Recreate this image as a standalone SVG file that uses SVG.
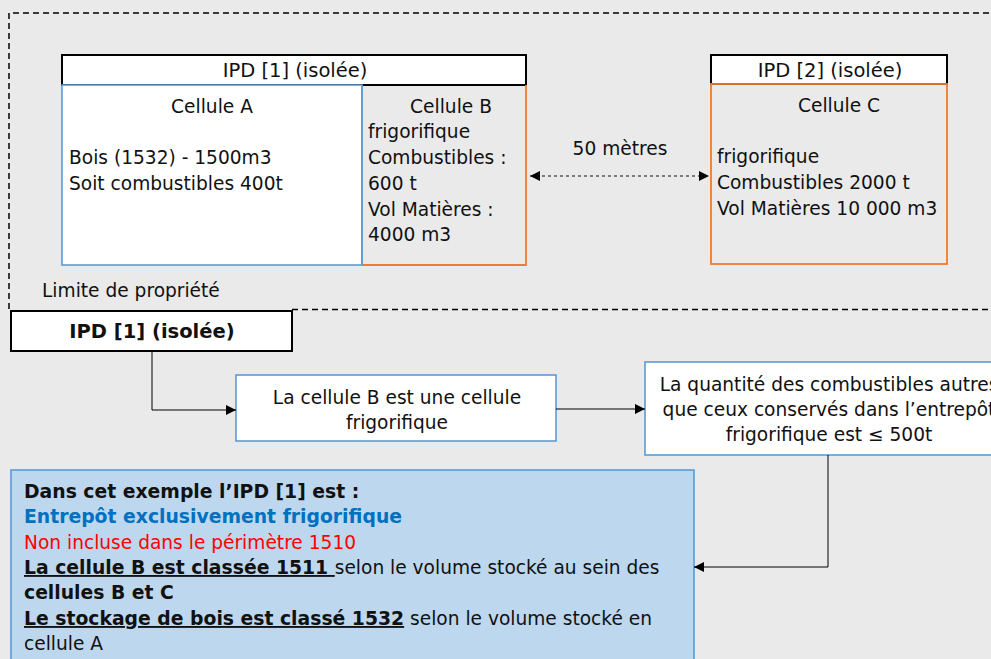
<svg xmlns="http://www.w3.org/2000/svg" width="991" height="659" viewBox="0 0 991 659">
<style>
text{font-family:"DejaVu Sans","Liberation Sans",sans-serif;font-size:18.6px;fill:#111}
.b{font-weight:bold;font-size:18.8px}
.h{font-size:19.5px}
.m{text-anchor:middle}
.hdr{fill:#fff;stroke:#000;stroke-width:2}
.blue{stroke:#5b9bd5;stroke-width:1.6}
.orange{stroke:#ed7d31;stroke-width:1.8}
.conn{fill:none;stroke:#000;stroke-width:1}
</style>
<defs>
<marker id="ah" viewBox="0 0 10 10" refX="10" refY="5" markerWidth="10" markerHeight="10" markerUnits="userSpaceOnUse" orient="auto-start-reverse">
<path d="M0,0 L10,5 L0,10 z" fill="#000"/>
</marker>
</defs>
<rect width="991" height="659" fill="#eaeaea"/>
<g id="limite">
<path d="M9,309 V13 H1000 M292,309.5 H1000" fill="none" stroke="#000" stroke-width="1.5" stroke-dasharray="6 4"/>
<text x="42" y="297">Limite de propriété</text>
</g>
<g id="ipd1">
<rect class="hdr" x="62" y="55" width="464" height="30"/>
<text class="m h" x="295" y="77">IPD [1] (isolée)</text>
</g>
<g id="celluleA">
<rect class="blue" x="62" y="85" width="300" height="180" fill="#fff"/>
<text class="m" x="212" y="113">Cellule A</text>
<text x="69" y="164">Bois (1532) - 1500m3</text>
<text x="69" y="190">Soit combustibles 400t</text>
</g>
<g id="celluleB">
<path class="orange" d="M362,265 H526 V85" fill="none"/>
<line class="blue" x1="362" y1="85" x2="362" y2="265"/>
<text class="m" x="451" y="113">Cellule B</text>
<text x="368" y="138">frigorifique</text>
<text x="368" y="164">Combustibles :</text>
<text x="368" y="190">600 t</text>
<text x="368" y="216">Vol Matières :</text>
<text x="368" y="241">4000 m3</text>
</g>
<g id="ipd2">
<rect class="hdr" x="711" y="55" width="236" height="29"/>
<text class="m h" x="830" y="77">IPD [2] (isolée)</text>
</g>
<g id="celluleC">
<rect class="orange" x="711" y="84" width="236" height="180" fill="none"/>
<text class="m" x="839" y="112">Cellule C</text>
<text x="717" y="163">frigorifique</text>
<text x="717" y="189">Combustibles 2000 t</text>
<text x="717" y="215">Vol Matières 10 000 m3</text>
</g>
<g id="ipd1b">
<rect class="hdr" x="11" y="311" width="281" height="40"/>
<text class="m b" x="152" y="338" style="font-size:19.5px">IPD [1] (isolée)</text>
</g>
<g id="frigo">
<rect class="blue" x="236" y="375" width="320" height="66" fill="#fff"/>
<text class="m" x="397" y="404">La cellule B est une cellule</text>
<text class="m" x="397" y="429">frigorifique</text>
</g>
<g id="quantite">
<rect class="blue" x="645" y="362" width="368" height="93" fill="#fff"/>
<text class="m" x="829" y="391">La quantité des combustibles autres</text>
<text class="m" x="829" y="416">que ceux conservés dans l’entrepôt</text>
<text class="m" x="829" y="441">frigorifique est ≤ 500t</text>
</g>
<g id="resultat">
<rect class="blue" x="11" y="470" width="683" height="200" fill="#bdd7ee"/>
<text class="b" x="24" y="498">Dans cet exemple l’IPD [1] est :</text>
<text class="b" x="24" y="523" style="fill:#0070c0">Entrepôt exclusivement frigorifique</text>
<text x="24" y="549" style="fill:#ff0000">Non incluse dans le périmètre 1510</text>
<text x="24" y="574"><tspan class="b" text-decoration="underline">La cellule B est classée 1511 </tspan>selon le volume stocké au sein des</text>
<text class="b" x="24" y="599">cellules B et C</text>
<text x="24" y="625"><tspan class="b" text-decoration="underline">Le stockage de bois est classé 1532</tspan> selon le volume stocké en</text>
<text x="24" y="650">cellule A</text>
</g>
<g id="connectors">
<line x1="530" y1="176" x2="709" y2="176" stroke="#555" stroke-width="1.3" stroke-dasharray="3 3" marker-start="url(#ah)" marker-end="url(#ah)"/>
<text class="m" x="620" y="155">50 mètres</text>
<path class="conn" d="M152,351 V410 H236" marker-end="url(#ah)"/>
<path class="conn" d="M556,409 H645" marker-end="url(#ah)"/>
<path class="conn" d="M828,455 V567 H694" marker-end="url(#ah)"/>
</g>
</svg>
